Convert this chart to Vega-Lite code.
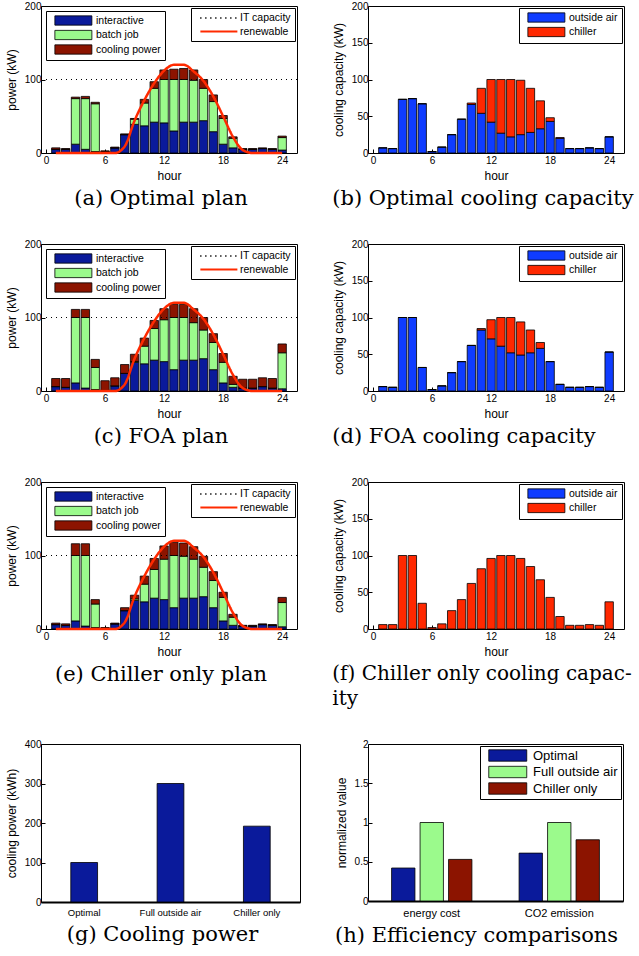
{
"$schema":"https://vega.github.io/schema/vega-lite/v6.json",
"background":"white",
"padding":{"left":4,"top":0,"right":0,"bottom":0},
"spacing":28,
"resolve":{"scale":{"fill":"independent","stroke":"independent","strokeDash":"independent"},"legend":{"fill":"independent","stroke":"independent","strokeDash":"independent"}},
"config":{
 "font":"Liberation Sans",
 "view":{"stroke":"black","strokeWidth":1},
 "axis":{"labelFont":"Liberation Sans","labelFontSize":10,"labelColor":"black","titleFont":"Liberation Sans","titleFontSize":12,"titleFontWeight":"normal","titleColor":"black","grid":false,"domain":false,"tickColor":"black","tickSize":-4,"labelFlush":false},
 "axisX":{"labelPadding":6,"titlePadding":5},
 "axisY":{"labelPadding":4,"titlePadding":6},
 "title":{"font":"DejaVu Serif","fontSize":21,"fontWeight":"normal","color":"black","orient":"bottom","offset":7},
 "legend":{"labelFont":"Liberation Sans","labelColor":"black","title":null},
 "bar":{"stroke":"black","strokeWidth":0.8}
},
"datasets":{
"itcap":[{"s":"IT capacity","v":100}],
"renew":[{"s":"renewable","h":1,"v":0},{"s":"renewable","h":2,"v":0},{"s":"renewable","h":3,"v":0},{"s":"renewable","h":4,"v":0},{"s":"renewable","h":5,"v":0},{"s":"renewable","h":6,"v":0},{"s":"renewable","h":7,"v":0},{"s":"renewable","h":8,"v":9},{"s":"renewable","h":9,"v":44},{"s":"renewable","h":10,"v":72},{"s":"renewable","h":11,"v":95},{"s":"renewable","h":12,"v":112},{"s":"renewable","h":13,"v":120},{"s":"renewable","h":14,"v":120},{"s":"renewable","h":15,"v":111},{"s":"renewable","h":16,"v":98},{"s":"renewable","h":17,"v":77},{"s":"renewable","h":18,"v":50},{"s":"renewable","h":19,"v":22},{"s":"renewable","h":20,"v":4},{"s":"renewable","h":21,"v":0},{"s":"renewable","h":22,"v":0},{"s":"renewable","h":23,"v":0},{"s":"renewable","h":24,"v":0}],
"optPlan":[
{"h":1,"c":"interactive","k":1,"v":5},{"h":1,"c":"batch job","k":2,"v":0},{"h":1,"c":"cooling power","k":3,"v":2},
{"h":2,"c":"interactive","k":1,"v":5},{"h":2,"c":"batch job","k":2,"v":0},{"h":2,"c":"cooling power","k":3,"v":1},
{"h":3,"c":"interactive","k":1,"v":12},{"h":3,"c":"batch job","k":2,"v":62},{"h":3,"c":"cooling power","k":3,"v":2},
{"h":4,"c":"interactive","k":1,"v":5},{"h":4,"c":"batch job","k":2,"v":69},{"h":4,"c":"cooling power","k":3,"v":3},
{"h":5,"c":"interactive","k":1,"v":2},{"h":5,"c":"batch job","k":2,"v":65},{"h":5,"c":"cooling power","k":3,"v":2},
{"h":6,"c":"interactive","k":1,"v":2},{"h":6,"c":"batch job","k":2,"v":0},{"h":6,"c":"cooling power","k":3,"v":1},
{"h":7,"c":"interactive","k":1,"v":7},{"h":7,"c":"batch job","k":2,"v":0},{"h":7,"c":"cooling power","k":3,"v":1},
{"h":8,"c":"interactive","k":1,"v":25},{"h":8,"c":"batch job","k":2,"v":0},{"h":8,"c":"cooling power","k":3,"v":1},
{"h":9,"c":"interactive","k":1,"v":39},{"h":9,"c":"batch job","k":2,"v":7},{"h":9,"c":"cooling power","k":3,"v":1},
{"h":10,"c":"interactive","k":1,"v":37},{"h":10,"c":"batch job","k":2,"v":31},{"h":10,"c":"cooling power","k":3,"v":5},
{"h":11,"c":"interactive","k":1,"v":42},{"h":11,"c":"batch job","k":2,"v":46},{"h":11,"c":"cooling power","k":3,"v":9},
{"h":12,"c":"interactive","k":1,"v":41},{"h":12,"c":"batch job","k":2,"v":59},{"h":12,"c":"cooling power","k":3,"v":13},
{"h":13,"c":"interactive","k":1,"v":30},{"h":13,"c":"batch job","k":2,"v":70},{"h":13,"c":"cooling power","k":3,"v":14},
{"h":14,"c":"interactive","k":1,"v":42},{"h":14,"c":"batch job","k":2,"v":58},{"h":14,"c":"cooling power","k":3,"v":15},
{"h":15,"c":"interactive","k":1,"v":42},{"h":15,"c":"batch job","k":2,"v":57},{"h":15,"c":"cooling power","k":3,"v":14},
{"h":16,"c":"interactive","k":1,"v":44},{"h":16,"c":"batch job","k":2,"v":44},{"h":16,"c":"cooling power","k":3,"v":12},
{"h":17,"c":"interactive","k":1,"v":29},{"h":17,"c":"batch job","k":2,"v":41},{"h":17,"c":"cooling power","k":3,"v":9},
{"h":18,"c":"interactive","k":1,"v":12},{"h":18,"c":"batch job","k":2,"v":35},{"h":18,"c":"cooling power","k":3,"v":4},
{"h":19,"c":"interactive","k":1,"v":7},{"h":19,"c":"batch job","k":2,"v":13},{"h":19,"c":"cooling power","k":3,"v":2},
{"h":20,"c":"interactive","k":1,"v":5},{"h":20,"c":"batch job","k":2,"v":0},{"h":20,"c":"cooling power","k":3,"v":1},
{"h":21,"c":"interactive","k":1,"v":5},{"h":21,"c":"batch job","k":2,"v":0},{"h":21,"c":"cooling power","k":3,"v":1},
{"h":22,"c":"interactive","k":1,"v":6},{"h":22,"c":"batch job","k":2,"v":0},{"h":22,"c":"cooling power","k":3,"v":1},
{"h":23,"c":"interactive","k":1,"v":5},{"h":23,"c":"batch job","k":2,"v":0},{"h":23,"c":"cooling power","k":3,"v":1},
{"h":24,"c":"interactive","k":1,"v":4},{"h":24,"c":"batch job","k":2,"v":17},{"h":24,"c":"cooling power","k":3,"v":2}],
"foaPlan":[
{"h":1,"c":"interactive","k":1,"v":6},{"h":1,"c":"batch job","k":2,"v":0},{"h":1,"c":"cooling power","k":3,"v":11},
{"h":2,"c":"interactive","k":1,"v":5},{"h":2,"c":"batch job","k":2,"v":0},{"h":2,"c":"cooling power","k":3,"v":12},
{"h":3,"c":"interactive","k":1,"v":11},{"h":3,"c":"batch job","k":2,"v":89},{"h":3,"c":"cooling power","k":3,"v":11},
{"h":4,"c":"interactive","k":1,"v":4},{"h":4,"c":"batch job","k":2,"v":96},{"h":4,"c":"cooling power","k":3,"v":11},
{"h":5,"c":"interactive","k":1,"v":2},{"h":5,"c":"batch job","k":2,"v":30},{"h":5,"c":"cooling power","k":3,"v":11},
{"h":6,"c":"interactive","k":1,"v":1},{"h":6,"c":"batch job","k":2,"v":0},{"h":6,"c":"cooling power","k":3,"v":13},
{"h":7,"c":"interactive","k":1,"v":7},{"h":7,"c":"batch job","k":2,"v":0},{"h":7,"c":"cooling power","k":3,"v":11},
{"h":8,"c":"interactive","k":1,"v":24},{"h":8,"c":"batch job","k":2,"v":0},{"h":8,"c":"cooling power","k":3,"v":12},
{"h":9,"c":"interactive","k":1,"v":39},{"h":9,"c":"batch job","k":2,"v":1},{"h":9,"c":"cooling power","k":3,"v":10},
{"h":10,"c":"interactive","k":1,"v":37},{"h":10,"c":"batch job","k":2,"v":24},{"h":10,"c":"cooling power","k":3,"v":11},
{"h":11,"c":"interactive","k":1,"v":42},{"h":11,"c":"batch job","k":2,"v":43},{"h":11,"c":"cooling power","k":3,"v":11},
{"h":12,"c":"interactive","k":1,"v":40},{"h":12,"c":"batch job","k":2,"v":57},{"h":12,"c":"cooling power","k":3,"v":15},
{"h":13,"c":"interactive","k":1,"v":29},{"h":13,"c":"batch job","k":2,"v":71},{"h":13,"c":"cooling power","k":3,"v":18},
{"h":14,"c":"interactive","k":1,"v":42},{"h":14,"c":"batch job","k":2,"v":58},{"h":14,"c":"cooling power","k":3,"v":18},
{"h":15,"c":"interactive","k":1,"v":42},{"h":15,"c":"batch job","k":2,"v":51},{"h":15,"c":"cooling power","k":3,"v":19},
{"h":16,"c":"interactive","k":1,"v":44},{"h":16,"c":"batch job","k":2,"v":39},{"h":16,"c":"cooling power","k":3,"v":17},
{"h":17,"c":"interactive","k":1,"v":29},{"h":17,"c":"batch job","k":2,"v":37},{"h":17,"c":"cooling power","k":3,"v":12},
{"h":18,"c":"interactive","k":1,"v":11},{"h":18,"c":"batch job","k":2,"v":28},{"h":18,"c":"cooling power","k":3,"v":12},
{"h":19,"c":"interactive","k":1,"v":5},{"h":19,"c":"batch job","k":2,"v":4},{"h":19,"c":"cooling power","k":3,"v":11},
{"h":20,"c":"interactive","k":1,"v":4},{"h":20,"c":"batch job","k":2,"v":0},{"h":20,"c":"cooling power","k":3,"v":12},
{"h":21,"c":"interactive","k":1,"v":4},{"h":21,"c":"batch job","k":2,"v":0},{"h":21,"c":"cooling power","k":3,"v":12},
{"h":22,"c":"interactive","k":1,"v":6},{"h":22,"c":"batch job","k":2,"v":0},{"h":22,"c":"cooling power","k":3,"v":12},
{"h":23,"c":"interactive","k":1,"v":4},{"h":23,"c":"batch job","k":2,"v":0},{"h":23,"c":"cooling power","k":3,"v":13},
{"h":24,"c":"interactive","k":1,"v":3},{"h":24,"c":"batch job","k":2,"v":49},{"h":24,"c":"cooling power","k":3,"v":12}],
"chPlan":[
{"h":1,"c":"interactive","k":1,"v":6},{"h":1,"c":"batch job","k":2,"v":0},{"h":1,"c":"cooling power","k":3,"v":2},
{"h":2,"c":"interactive","k":1,"v":5},{"h":2,"c":"batch job","k":2,"v":0},{"h":2,"c":"cooling power","k":3,"v":2},
{"h":3,"c":"interactive","k":1,"v":11},{"h":3,"c":"batch job","k":2,"v":89},{"h":3,"c":"cooling power","k":3,"v":16},
{"h":4,"c":"interactive","k":1,"v":4},{"h":4,"c":"batch job","k":2,"v":96},{"h":4,"c":"cooling power","k":3,"v":16},
{"h":5,"c":"interactive","k":1,"v":2},{"h":5,"c":"batch job","k":2,"v":32},{"h":5,"c":"cooling power","k":3,"v":6},
{"h":6,"c":"interactive","k":1,"v":1},{"h":6,"c":"batch job","k":2,"v":0},{"h":6,"c":"cooling power","k":3,"v":1},
{"h":7,"c":"interactive","k":1,"v":7},{"h":7,"c":"batch job","k":2,"v":0},{"h":7,"c":"cooling power","k":3,"v":1},
{"h":8,"c":"interactive","k":1,"v":25},{"h":8,"c":"batch job","k":2,"v":0},{"h":8,"c":"cooling power","k":3,"v":4},
{"h":9,"c":"interactive","k":1,"v":39},{"h":9,"c":"batch job","k":2,"v":2},{"h":9,"c":"cooling power","k":3,"v":5},
{"h":10,"c":"interactive","k":1,"v":37},{"h":10,"c":"batch job","k":2,"v":24},{"h":10,"c":"cooling power","k":3,"v":11},
{"h":11,"c":"interactive","k":1,"v":42},{"h":11,"c":"batch job","k":2,"v":39},{"h":11,"c":"cooling power","k":3,"v":15},
{"h":12,"c":"interactive","k":1,"v":40},{"h":12,"c":"batch job","k":2,"v":55},{"h":12,"c":"cooling power","k":3,"v":18},
{"h":13,"c":"interactive","k":1,"v":29},{"h":13,"c":"batch job","k":2,"v":71},{"h":13,"c":"cooling power","k":3,"v":18},
{"h":14,"c":"interactive","k":1,"v":42},{"h":14,"c":"batch job","k":2,"v":57},{"h":14,"c":"cooling power","k":3,"v":18},
{"h":15,"c":"interactive","k":1,"v":42},{"h":15,"c":"batch job","k":2,"v":53},{"h":15,"c":"cooling power","k":3,"v":17},
{"h":16,"c":"interactive","k":1,"v":44},{"h":16,"c":"batch job","k":2,"v":40},{"h":16,"c":"cooling power","k":3,"v":15},
{"h":17,"c":"interactive","k":1,"v":29},{"h":17,"c":"batch job","k":2,"v":37},{"h":17,"c":"cooling power","k":3,"v":12},
{"h":18,"c":"interactive","k":1,"v":11},{"h":18,"c":"batch job","k":2,"v":32},{"h":18,"c":"cooling power","k":3,"v":7},
{"h":19,"c":"interactive","k":1,"v":5},{"h":19,"c":"batch job","k":2,"v":11},{"h":19,"c":"cooling power","k":3,"v":4},
{"h":20,"c":"interactive","k":1,"v":4},{"h":20,"c":"batch job","k":2,"v":0},{"h":20,"c":"cooling power","k":3,"v":1},
{"h":21,"c":"interactive","k":1,"v":4},{"h":21,"c":"batch job","k":2,"v":0},{"h":21,"c":"cooling power","k":3,"v":1},
{"h":22,"c":"interactive","k":1,"v":6},{"h":22,"c":"batch job","k":2,"v":0},{"h":22,"c":"cooling power","k":3,"v":1},
{"h":23,"c":"interactive","k":1,"v":5},{"h":23,"c":"batch job","k":2,"v":0},{"h":23,"c":"cooling power","k":3,"v":1},
{"h":24,"c":"interactive","k":1,"v":3},{"h":24,"c":"batch job","k":2,"v":33},{"h":24,"c":"cooling power","k":3,"v":7}],
"optCool":[
{"h":1,"c":"outside air","v":7},{"h":1,"c":"chiller","v":0},{"h":2,"c":"outside air","v":6},{"h":2,"c":"chiller","v":0},
{"h":3,"c":"outside air","v":73},{"h":3,"c":"chiller","v":0},{"h":4,"c":"outside air","v":74},{"h":4,"c":"chiller","v":0},
{"h":5,"c":"outside air","v":67},{"h":5,"c":"chiller","v":0},{"h":6,"c":"outside air","v":2},{"h":6,"c":"chiller","v":0},
{"h":7,"c":"outside air","v":8},{"h":7,"c":"chiller","v":0},{"h":8,"c":"outside air","v":25},{"h":8,"c":"chiller","v":0},
{"h":9,"c":"outside air","v":46},{"h":9,"c":"chiller","v":0},{"h":10,"c":"outside air","v":66},{"h":10,"c":"chiller","v":2},
{"h":11,"c":"outside air","v":54},{"h":11,"c":"chiller","v":34},{"h":12,"c":"outside air","v":42},{"h":12,"c":"chiller","v":58},
{"h":13,"c":"outside air","v":27},{"h":13,"c":"chiller","v":73},{"h":14,"c":"outside air","v":22},{"h":14,"c":"chiller","v":78},
{"h":15,"c":"outside air","v":25},{"h":15,"c":"chiller","v":74},{"h":16,"c":"outside air","v":28},{"h":16,"c":"chiller","v":60},
{"h":17,"c":"outside air","v":33},{"h":17,"c":"chiller","v":38},{"h":18,"c":"outside air","v":43},{"h":18,"c":"chiller","v":5},
{"h":19,"c":"outside air","v":20},{"h":19,"c":"chiller","v":1},{"h":20,"c":"outside air","v":6},{"h":20,"c":"chiller","v":0},
{"h":21,"c":"outside air","v":6},{"h":21,"c":"chiller","v":0},{"h":22,"c":"outside air","v":7},{"h":22,"c":"chiller","v":0},
{"h":23,"c":"outside air","v":6},{"h":23,"c":"chiller","v":0},{"h":24,"c":"outside air","v":22},{"h":24,"c":"chiller","v":0}],
"foaCool":[
{"h":1,"c":"outside air","v":6},{"h":1,"c":"chiller","v":0},{"h":2,"c":"outside air","v":5},{"h":2,"c":"chiller","v":0},
{"h":3,"c":"outside air","v":100},{"h":3,"c":"chiller","v":0},{"h":4,"c":"outside air","v":100},{"h":4,"c":"chiller","v":0},
{"h":5,"c":"outside air","v":32},{"h":5,"c":"chiller","v":0},{"h":6,"c":"outside air","v":2},{"h":6,"c":"chiller","v":0},
{"h":7,"c":"outside air","v":7},{"h":7,"c":"chiller","v":0},{"h":8,"c":"outside air","v":25},{"h":8,"c":"chiller","v":0},
{"h":9,"c":"outside air","v":40},{"h":9,"c":"chiller","v":0},{"h":10,"c":"outside air","v":62},{"h":10,"c":"chiller","v":0},
{"h":11,"c":"outside air","v":83},{"h":11,"c":"chiller","v":2},{"h":12,"c":"outside air","v":71},{"h":12,"c":"chiller","v":26},
{"h":13,"c":"outside air","v":61},{"h":13,"c":"chiller","v":39},{"h":14,"c":"outside air","v":52},{"h":14,"c":"chiller","v":48},
{"h":15,"c":"outside air","v":49},{"h":15,"c":"chiller","v":45},{"h":16,"c":"outside air","v":52},{"h":16,"c":"chiller","v":31},
{"h":17,"c":"outside air","v":58},{"h":17,"c":"chiller","v":8},{"h":18,"c":"outside air","v":40},{"h":18,"c":"chiller","v":0},
{"h":19,"c":"outside air","v":9},{"h":19,"c":"chiller","v":0},{"h":20,"c":"outside air","v":5},{"h":20,"c":"chiller","v":0},
{"h":21,"c":"outside air","v":5},{"h":21,"c":"chiller","v":0},{"h":22,"c":"outside air","v":6},{"h":22,"c":"chiller","v":0},
{"h":23,"c":"outside air","v":5},{"h":23,"c":"chiller","v":0},{"h":24,"c":"outside air","v":53},{"h":24,"c":"chiller","v":0}],
"chCool":[
{"h":1,"c":"chiller","v":6},{"h":2,"c":"chiller","v":6},{"h":3,"c":"chiller","v":100},{"h":4,"c":"chiller","v":100},
{"h":5,"c":"chiller","v":35},{"h":6,"c":"chiller","v":2},{"h":7,"c":"chiller","v":7},{"h":8,"c":"chiller","v":25},
{"h":9,"c":"chiller","v":40},{"h":10,"c":"chiller","v":62},{"h":11,"c":"chiller","v":82},{"h":12,"c":"chiller","v":96},
{"h":13,"c":"chiller","v":100},{"h":14,"c":"chiller","v":100},{"h":15,"c":"chiller","v":96},{"h":16,"c":"chiller","v":85},
{"h":17,"c":"chiller","v":67},{"h":18,"c":"chiller","v":43},{"h":19,"c":"chiller","v":17},{"h":20,"c":"chiller","v":5},
{"h":21,"c":"chiller","v":5},{"h":22,"c":"chiller","v":6},{"h":23,"c":"chiller","v":5},{"h":24,"c":"chiller","v":37}],
"cp":[{"s":"Optimal","v":100},{"s":"Full outside air","v":300},{"s":"Chiller only","v":192}],
"eff":[{"m":"energy cost","s":"Optimal","v":0.42},{"m":"energy cost","s":"Full outside air","v":1.0},{"m":"energy cost","s":"Chiller only","v":0.53},
{"m":"CO2 emission","s":"Optimal","v":0.61},{"m":"CO2 emission","s":"Full outside air","v":1.0},{"m":"CO2 emission","s":"Chiller only","v":0.78}]
},
"vconcat":[
{"resolve":{"scale":{"fill":"independent","stroke":"independent","strokeDash":"independent"},"legend":{"fill":"independent","stroke":"independent","strokeDash":"independent"}},
 "hconcat":[
 {"width":256,"height":147,"title":{"text":"(a) Optimal plan","anchor":"middle","frame":"group","dx":-8},
  "layer":[
   {"data":{"name":"optPlan"},"mark":{"type":"bar","width":8.4},
    "encoding":{
     "x":{"field":"h","type":"quantitative","scale":{"domain":[0,25],"nice":false},"axis":{"values":[0,6,12,18,24],"title":"hour"}},
     "y":{"field":"v","type":"quantitative","stack":"zero","scale":{"domain":[0,200],"nice":false},"axis":{"values":[0,50,100,150,200],"title":"power (kW)"}},
     "fill":{"field":"c","type":"nominal","scale":{"domain":["interactive","batch job","cooling power"],"range":["#0a1a9b","#9bfa8c","#8c1400"]},
       "legend":{"orient":"top-left","offset":5,"strokeColor":"black","fillColor":"white","padding":4,"symbolOffset":4,"symbolType":"M-1,-1H7V1H-1Z","symbolSize":85.6,"symbolStrokeColor":"black","symbolStrokeWidth":0.8,"labelFontSize":10.5,"labelOffset":31,"rowPadding":1.5}},
     "order":{"field":"k","type":"quantitative"}}},
   {"data":{"name":"itcap"},"mark":{"type":"rule","strokeWidth":1},
    "encoding":{"y":{"field":"v","type":"quantitative"},
     "stroke":{"field":"s","type":"nominal","scale":{"domain":["IT capacity","renewable"],"range":["black","#ff2a00"]},
       "legend":{"orient":"top-right","offset":2,"strokeColor":"black","fillColor":"white","padding":4,"symbolOffset":4,"symbolType":"M-1,0H7","symbolSize":85.6,"symbolStrokeWidth":1.8,"labelFontSize":10.5,"labelOffset":29,"rowPadding":1.5}},
     "strokeDash":{"field":"s","type":"nominal","scale":{"domain":["IT capacity","renewable"],"range":[[1,4],[1,0]]}}}},
   {"data":{"name":"renew"},"mark":{"type":"line","interpolate":"monotone","strokeWidth":2.5},
    "encoding":{"x":{"field":"h","type":"quantitative"},"y":{"field":"v","type":"quantitative"},
     "stroke":{"field":"s","type":"nominal"},"strokeDash":{"field":"s","type":"nominal"}}}
  ]},
 {"width":256,"height":147,"title":{"text":"(b) Optimal cooling capacity","anchor":"start","frame":"bounds"},
  "data":{"name":"optCool"},"mark":{"type":"bar","width":8.4},
  "encoding":{
   "x":{"field":"h","type":"quantitative","scale":{"domain":[0,25],"nice":false},"axis":{"values":[0,6,12,18,24],"title":"hour"}},
   "y":{"field":"v","type":"quantitative","stack":"zero","scale":{"domain":[0,200],"nice":false},"axis":{"values":[0,50,100,150,200],"title":"cooling capacity (kW)"}},
   "fill":{"field":"c","type":"nominal","scale":{"domain":["outside air","chiller"],"range":["#0f3cff","#ff2800"]},
     "legend":{"orient":"top-right","offset":2,"strokeColor":"black","fillColor":"white","padding":4,"symbolOffset":4,"symbolType":"M-1,-1H7V1H-1Z","symbolSize":85.6,"symbolStrokeColor":"black","symbolStrokeWidth":0.8,"labelFontSize":10.5,"labelOffset":31,"rowPadding":1.5}},
   "order":{"field":"c","type":"nominal","sort":"descending"}}}
 ],"spacing":33},
{"resolve":{"scale":{"fill":"independent","stroke":"independent","strokeDash":"independent"},"legend":{"fill":"independent","stroke":"independent","strokeDash":"independent"}},
 "hconcat":[
 {"width":256,"height":147,"title":{"text":"(c) FOA plan","anchor":"middle","frame":"group","dx":-8},
  "layer":[
   {"data":{"name":"foaPlan"},"mark":{"type":"bar","width":8.4},
    "encoding":{
     "x":{"field":"h","type":"quantitative","scale":{"domain":[0,25],"nice":false},"axis":{"values":[0,6,12,18,24],"title":"hour"}},
     "y":{"field":"v","type":"quantitative","stack":"zero","scale":{"domain":[0,200],"nice":false},"axis":{"values":[0,50,100,150,200],"title":"power (kW)"}},
     "fill":{"field":"c","type":"nominal","scale":{"domain":["interactive","batch job","cooling power"],"range":["#0a1a9b","#9bfa8c","#8c1400"]},
       "legend":{"orient":"top-left","offset":5,"strokeColor":"black","fillColor":"white","padding":4,"symbolOffset":4,"symbolType":"M-1,-1H7V1H-1Z","symbolSize":85.6,"symbolStrokeColor":"black","symbolStrokeWidth":0.8,"labelFontSize":10.5,"labelOffset":31,"rowPadding":1.5}},
     "order":{"field":"k","type":"quantitative"}}},
   {"data":{"name":"itcap"},"mark":{"type":"rule","strokeWidth":1},
    "encoding":{"y":{"field":"v","type":"quantitative"},
     "stroke":{"field":"s","type":"nominal","scale":{"domain":["IT capacity","renewable"],"range":["black","#ff2a00"]},
       "legend":{"orient":"top-right","offset":2,"strokeColor":"black","fillColor":"white","padding":4,"symbolOffset":4,"symbolType":"M-1,0H7","symbolSize":85.6,"symbolStrokeWidth":1.8,"labelFontSize":10.5,"labelOffset":29,"rowPadding":1.5}},
     "strokeDash":{"field":"s","type":"nominal","scale":{"domain":["IT capacity","renewable"],"range":[[1,4],[1,0]]}}}},
   {"data":{"name":"renew"},"mark":{"type":"line","interpolate":"monotone","strokeWidth":2.5},
    "encoding":{"x":{"field":"h","type":"quantitative"},"y":{"field":"v","type":"quantitative"},
     "stroke":{"field":"s","type":"nominal"},"strokeDash":{"field":"s","type":"nominal"}}}
  ]},
 {"width":256,"height":147,"title":{"text":"(d) FOA cooling capacity","anchor":"start","frame":"bounds"},
  "data":{"name":"foaCool"},"mark":{"type":"bar","width":8.4},
  "encoding":{
   "x":{"field":"h","type":"quantitative","scale":{"domain":[0,25],"nice":false},"axis":{"values":[0,6,12,18,24],"title":"hour"}},
   "y":{"field":"v","type":"quantitative","stack":"zero","scale":{"domain":[0,200],"nice":false},"axis":{"values":[0,50,100,150,200],"title":"cooling capacity (kW)"}},
   "fill":{"field":"c","type":"nominal","scale":{"domain":["outside air","chiller"],"range":["#0f3cff","#ff2800"]},
     "legend":{"orient":"top-right","offset":2,"strokeColor":"black","fillColor":"white","padding":4,"symbolOffset":4,"symbolType":"M-1,-1H7V1H-1Z","symbolSize":85.6,"symbolStrokeColor":"black","symbolStrokeWidth":0.8,"labelFontSize":10.5,"labelOffset":31,"rowPadding":1.5}},
   "order":{"field":"c","type":"nominal","sort":"descending"}}}
 ],"spacing":33},
{"resolve":{"scale":{"fill":"independent","stroke":"independent","strokeDash":"independent"},"legend":{"fill":"independent","stroke":"independent","strokeDash":"independent"}},
 "hconcat":[
 {"width":256,"height":147,"title":{"text":"(e) Chiller only plan","anchor":"middle","frame":"group","dx":-8},
  "layer":[
   {"data":{"name":"chPlan"},"mark":{"type":"bar","width":8.4},
    "encoding":{
     "x":{"field":"h","type":"quantitative","scale":{"domain":[0,25],"nice":false},"axis":{"values":[0,6,12,18,24],"title":"hour"}},
     "y":{"field":"v","type":"quantitative","stack":"zero","scale":{"domain":[0,200],"nice":false},"axis":{"values":[0,50,100,150,200],"title":"power (kW)"}},
     "fill":{"field":"c","type":"nominal","scale":{"domain":["interactive","batch job","cooling power"],"range":["#0a1a9b","#9bfa8c","#8c1400"]},
       "legend":{"orient":"top-left","offset":5,"strokeColor":"black","fillColor":"white","padding":4,"symbolOffset":4,"symbolType":"M-1,-1H7V1H-1Z","symbolSize":85.6,"symbolStrokeColor":"black","symbolStrokeWidth":0.8,"labelFontSize":10.5,"labelOffset":31,"rowPadding":1.5}},
     "order":{"field":"k","type":"quantitative"}}},
   {"data":{"name":"itcap"},"mark":{"type":"rule","strokeWidth":1},
    "encoding":{"y":{"field":"v","type":"quantitative"},
     "stroke":{"field":"s","type":"nominal","scale":{"domain":["IT capacity","renewable"],"range":["black","#ff2a00"]},
       "legend":{"orient":"top-right","offset":2,"strokeColor":"black","fillColor":"white","padding":4,"symbolOffset":4,"symbolType":"M-1,0H7","symbolSize":85.6,"symbolStrokeWidth":1.8,"labelFontSize":10.5,"labelOffset":29,"rowPadding":1.5}},
     "strokeDash":{"field":"s","type":"nominal","scale":{"domain":["IT capacity","renewable"],"range":[[1,4],[1,0]]}}}},
   {"data":{"name":"renew"},"mark":{"type":"line","interpolate":"monotone","strokeWidth":2.5},
    "encoding":{"x":{"field":"h","type":"quantitative"},"y":{"field":"v","type":"quantitative"},
     "stroke":{"field":"s","type":"nominal"},"strokeDash":{"field":"s","type":"nominal"}}}
  ]},
 {"width":256,"height":147,"title":{"text":["(f) Chiller only cooling capac-","ity"],"anchor":"start","frame":"bounds","lineHeight":25,"fontSize":20},
  "data":{"name":"chCool"},"mark":{"type":"bar","width":8.4},
  "encoding":{
   "x":{"field":"h","type":"quantitative","scale":{"domain":[0,25],"nice":false},"axis":{"values":[0,6,12,18,24],"title":"hour"}},
   "y":{"field":"v","type":"quantitative","stack":"zero","scale":{"domain":[0,200],"nice":false},"axis":{"values":[0,50,100,150,200],"title":"cooling capacity (kW)"}},
   "fill":{"field":"c","type":"nominal","scale":{"domain":["outside air","chiller"],"range":["#0f3cff","#ff2800"]},
     "legend":{"orient":"top-right","offset":2,"strokeColor":"black","fillColor":"white","padding":4,"symbolOffset":4,"symbolType":"M-1,-1H7V1H-1Z","symbolSize":85.6,"symbolStrokeColor":"black","symbolStrokeWidth":0.8,"labelFontSize":10.5,"labelOffset":31,"rowPadding":1.5}}}}
 ],"spacing":33},
{"resolve":{"scale":{"fill":"independent"},"legend":{"fill":"independent"}},
 "hconcat":[
 {"width":259,"height":158,"title":{"text":"(g) Cooling power","anchor":"middle","frame":"group","dx":-8},
  "data":{"name":"cp"},"mark":{"type":"bar"},
  "encoding":{
   "x":{"field":"s","type":"nominal","sort":null,"scale":{"paddingInner":0.69,"paddingOuter":0.345},"axis":{"title":null,"labelAngle":0,"ticks":false,"labelFontSize":9.5,"labelPadding":5,"domain":true,"domainWidth":2,"domainColor":"black"}},
   "y":{"field":"v","type":"quantitative","scale":{"domain":[0,400],"nice":false},"axis":{"values":[0,100,200,300,400],"title":"cooling power (kWh)"}},
   "fill":{"value":"#0a1a9b"}}},
 {"width":255,"height":157,"title":{"text":"(h) Efficiency comparisons","anchor":"start","frame":"bounds"},
  "data":{"name":"eff"},"mark":{"type":"bar"},
  "encoding":{
   "x":{"field":"m","type":"nominal","sort":null,"scale":{"paddingInner":0.37,"paddingOuter":0.185},"axis":{"title":null,"labelAngle":0,"ticks":false,"labelFontSize":11,"labelPadding":6,"domain":true,"domainWidth":2,"domainColor":"black"}},
   "xOffset":{"field":"s","type":"nominal","sort":null,"scale":{"domain":["Optimal","Full outside air","Chiller only"],"paddingInner":0.18}},
   "y":{"field":"v","type":"quantitative","scale":{"domain":[0,2],"nice":false},"axis":{"values":[0,0.5,1,1.5,2],"format":"~g","title":"normalized value"}},
   "fill":{"field":"s","type":"nominal","scale":{"domain":["Optimal","Full outside air","Chiller only"],"range":["#0a1a9b","#9bfa8c","#8c1400"]},
     "legend":{"orient":"top-right","offset":2,"strokeColor":"black","fillColor":"white","padding":3,"symbolOffset":4,"symbolType":"M-1,-1.2H7V1.2H-1Z","symbolSize":90.25,"symbolStrokeColor":"black","symbolStrokeWidth":0.8,"labelFontSize":13,"labelOffset":33,"rowPadding":1.5}}}}
 ],"spacing":33}
]
}
